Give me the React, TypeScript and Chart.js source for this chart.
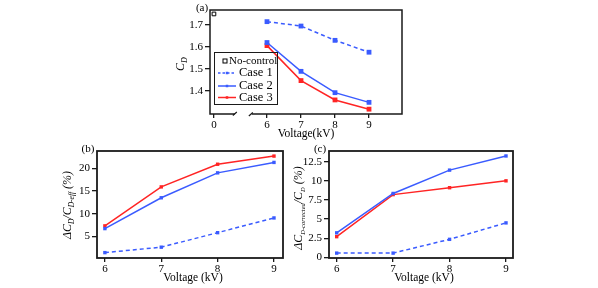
import React, { useEffect, useRef } from 'react';
import { Chart, registerables } from 'chart.js';

Chart.register(...registerables);

// ---------------- data ----------------
const voltages = [6, 7, 8, 9];
const noControlVoltage = [0];
const noControlCd = [1.75];
const cdCase1 = [1.715, 1.695, 1.63, 1.576];
const cdCase2 = [1.62, 1.489, 1.392, 1.348];
const cdCase3 = [1.606, 1.447, 1.359, 1.317];
const effCase1 = [1.4, 2.6, 5.8, 9.05];
const effCase2 = [6.7, 13.5, 19.0, 21.3];
const effCase3 = [7.3, 15.9, 20.9, 22.7];
const corrCase1 = [0.55, 0.55, 2.35, 4.5];
const corrCase2 = [3.2, 8.35, 11.4, 13.25];
const corrCase3 = [2.7, 8.2, 9.1, 10.0];
const xTicksA = [0, 6, 7, 8, 9];
const yTicksA = [1.4, 1.5, 1.6, 1.7];
const xTicksBC = [6, 7, 8, 9];
const yTicksB = [5, 10, 15, 20];
const yTicksC = [0, 2.5, 5, 7.5, 10, 12.5];
const legendLabels = ['No-control', 'Case 1', 'Case 2', 'Case 3'];

// ---------------- styling ----------------
const W = 598;
const H = 288;
const AXIS_W = 40;
const AXIS_H = 30;
const FONT = '"Liberation Serif", "Times New Roman", serif';
const BLUE = '#3a5bff';
const RED = '#ff2424';
const INK = '#1a1a1a';
const DASH = [4, 3];

// axis break in panel (a): value 0 is drawn just right of the left axis
const BREAK_ZERO = 4.44;
const toAxisX = (v: number) => (v === 0 ? BREAK_ZERO : v);
const pts = (xs: number[], ys: number[]) => xs.map((x, i) => ({ x: toAxisX(x), y: ys[i] }));

type Seg = { t: string; sub?: boolean };

function drawRich(ctx: CanvasRenderingContext2D, segs: Seg[], cx: number, cy: number, size: number, subSize: number, rotate: boolean) {
  ctx.save();
  ctx.translate(cx, cy);
  if (rotate) ctx.rotate(-Math.PI / 2);
  const mainFont = `italic ${size}px ${FONT}`;
  const subFont = `italic ${subSize}px ${FONT}`;
  let total = 0;
  const widths = segs.map((s) => {
    ctx.font = s.sub ? subFont : mainFont;
    const w = ctx.measureText(s.t).width;
    total += w;
    return w;
  });
  let x = -total / 2;
  ctx.textAlign = 'left';
  ctx.textBaseline = 'alphabetic';
  ctx.fillStyle = '#000';
  segs.forEach((s, i) => {
    ctx.font = s.sub ? subFont : mainFont;
    ctx.fillText(s.t, x, s.sub ? size * 0.55 : size * 0.35);
    x += widths[i];
  });
  ctx.restore();
}

function drawText(ctx: CanvasRenderingContext2D, t: string, x: number, y: number, size: number, align: CanvasTextAlign = 'center') {
  ctx.save();
  ctx.font = `${size}px ${FONT}`;
  ctx.fillStyle = '#000';
  ctx.textAlign = align;
  ctx.textBaseline = 'middle';
  ctx.fillText(t, x, y);
  ctx.restore();
}

function rectMarker(ctx: CanvasRenderingContext2D, x: number, y: number, s: number, fill: string, stroke?: string) {
  ctx.save();
  if (stroke) {
    ctx.fillStyle = '#fff';
    ctx.fillRect(x - s / 2, y - s / 2, s, s);
    ctx.strokeStyle = stroke;
    ctx.lineWidth = 1;
    ctx.strokeRect(x - s / 2, y - s / 2, s, s);
  } else {
    ctx.fillStyle = fill;
    ctx.fillRect(x - s / 2, y - s / 2, s, s);
  }
  ctx.restore();
}

type Panel = {
  id: string;
  area: { left: number; right: number; top: number; bottom: number };
  xMin: number; xMax: number; yMin: number; yMax: number;
  xTicks: number[]; yTicks: number[];
  datasets: any[];
  tag: string; tagPos: [number, number];
  xTitle: string; xTitlePos: [number, number];
  yTitle: Seg[]; yTitlePos: [number, number]; ySubSize: number;
  broken?: boolean;
  legend?: boolean;
};

function lineSet(label: string, xs: number[], ys: number[], color: string, dashed: boolean, r: number) {
  return {
    label,
    data: pts(xs, ys),
    borderColor: color,
    backgroundColor: color,
    borderWidth: 1.5,
    borderDash: dashed ? DASH : [],
    pointStyle: 'rect',
    pointRadius: r,
    pointBackgroundColor: color,
    pointBorderColor: color,
    pointBorderWidth: 0,
    tension: 0,
    showLine: true,
  };
}

const panels: Panel[] = [
  {
    id: 'a',
    area: { left: 210, right: 402, top: 10, bottom: 114 },
    xMin: 4.324, xMax: 9.97, yMin: 1.295, yMax: 1.768,
    xTicks: xTicksA, yTicks: yTicksA,
    datasets: [
      {
        label: legendLabels[0],
        data: pts(noControlVoltage, noControlCd),
        showLine: false,
        pointStyle: 'rect',
        pointRadius: 2.6,
        pointBackgroundColor: '#fff',
        pointBorderColor: '#000',
        pointBorderWidth: 1,
      },
      lineSet(legendLabels[1], voltages, cdCase1, BLUE, true, 3.4),
      lineSet(legendLabels[2], voltages, cdCase2, BLUE, false, 3.4),
      lineSet(legendLabels[3], voltages, cdCase3, RED, false, 3.4),
    ],
    tag: '(a)', tagPos: [202, 8],
    xTitle: 'Voltage(kV)', xTitlePos: [306, 134],
    yTitle: [{ t: 'C' }, { t: 'D', sub: true }], yTitlePos: [180, 64], ySubSize: 8,
    broken: true,
    legend: true,
  },
  {
    id: 'b',
    area: { left: 97, right: 283, top: 151, bottom: 258 },
    xMin: 5.86, xMax: 9.16, yMin: 0.213, yMax: 23.82,
    xTicks: xTicksBC, yTicks: yTicksB,
    datasets: [
      lineSet(legendLabels[1], voltages, effCase1, BLUE, true, 2.4),
      lineSet(legendLabels[2], voltages, effCase2, BLUE, false, 2.4),
      lineSet(legendLabels[3], voltages, effCase3, RED, false, 2.4),
    ],
    tag: '(b)', tagPos: [88, 149],
    xTitle: 'Voltage (kV)', xTitlePos: [193, 278],
    yTitle: [{ t: 'ΔC' }, { t: 'D', sub: true }, { t: '/C' }, { t: 'D-eff', sub: true }, { t: ' (%)' }],
    yTitlePos: [67, 205], ySubSize: 7.5,
  },
  {
    id: 'c',
    area: { left: 329, right: 513, top: 151, bottom: 258 },
    xMin: 5.864, xMax: 9.124, yMin: -0.09, yMax: 13.9,
    xTicks: xTicksBC, yTicks: yTicksC,
    datasets: [
      lineSet(legendLabels[1], voltages, corrCase1, BLUE, true, 2.4),
      lineSet(legendLabels[2], voltages, corrCase2, BLUE, false, 2.4),
      lineSet(legendLabels[3], voltages, corrCase3, RED, false, 2.4),
    ],
    tag: '(c)', tagPos: [320, 149],
    xTitle: 'Voltage (kV)', xTitlePos: [424, 278],
    yTitle: [{ t: 'ΔC' }, { t: 'D-corrected', sub: true }, { t: '/C' }, { t: 'D', sub: true }, { t: ' (%)' }],
    yTitlePos: [298, 208], ySubSize: 6.5,
  },
];

function panelPlugin(p: Panel) {
  return {
    id: 'panel_' + p.id,
    beforeDatasetsDraw(chart: any) {
      const ctx: CanvasRenderingContext2D = chart.ctx;
      const { left, right, top, bottom } = chart.chartArea;
      ctx.save();
      ctx.strokeStyle = INK;
      ctx.lineWidth = p.broken ? 1.5 : 1.8;
      if (!p.broken) {
        ctx.strokeRect(left, top, right - left, bottom - top);
      } else {
        const xs = chart.scales.x;
        const gc = xs.getPixelForValue(5.26);
        const g = 7;
        ctx.beginPath();
        ctx.moveTo(gc - g, bottom);
        ctx.lineTo(left, bottom);
        ctx.lineTo(left, top);
        ctx.lineTo(right, top);
        ctx.lineTo(right, bottom);
        ctx.lineTo(gc + g + 3, bottom);
        ctx.stroke();
        ctx.lineWidth = 1.2;
        ctx.beginPath();
        ctx.moveTo(gc - g - 2, bottom + 1.5);
        ctx.lineTo(gc - g + 2, bottom - 2);
        ctx.moveTo(gc + g, bottom + 2);
        ctx.lineTo(gc + g + 4, bottom - 1.5);
        ctx.stroke();
      }
      ctx.restore();
    },
    afterDraw(chart: any) {
      const ctx: CanvasRenderingContext2D = chart.ctx;
      drawText(ctx, p.tag, p.tagPos[0], p.tagPos[1], 11);
      drawText(ctx, p.xTitle, p.xTitlePos[0], p.xTitlePos[1], 11.5);
      drawRich(ctx, p.yTitle, p.yTitlePos[0], p.yTitlePos[1], 12, p.ySubSize, true);
      if (p.legend) {
        ctx.save();
        ctx.strokeStyle = INK;
        ctx.lineWidth = 1;
        ctx.strokeRect(214.5, 52.5, 63, 52);
        ctx.restore();
        // No-control
        rectMarker(ctx, 225, 61, 4, '#fff', '#000');
        drawText(ctx, legendLabels[0], 229, 61, 11, 'left');
        const rows: [string, string, boolean, number][] = [
          [legendLabels[1], BLUE, true, 73],
          [legendLabels[2], BLUE, false, 86],
          [legendLabels[3], RED, false, 97.5],
        ];
        rows.forEach(([label, color, dashed, y]) => {
          ctx.save();
          ctx.strokeStyle = color;
          ctx.lineWidth = 1.5;
          ctx.setLineDash(dashed ? [2.5, 2] : []);
          ctx.beginPath();
          ctx.moveTo(218, y);
          ctx.lineTo(236, y);
          ctx.stroke();
          ctx.restore();
          rectMarker(ctx, 227, y, 2.5, color);
          drawText(ctx, label, 239, y, 12.5, 'left');
        });
      }
    },
  };
}

function buildConfig(p: Panel): any {
  const tickFont = { family: FONT, size: 11 };
  return {
    type: 'line',
    data: { datasets: p.datasets },
    options: {
      responsive: false,
      maintainAspectRatio: false,
      animation: false,
      devicePixelRatio: 1,
      events: [],
      layout: {
        padding: {
          left: p.area.left - AXIS_W,
          right: W - p.area.right,
          top: p.area.top,
          bottom: H - p.area.bottom - AXIS_H,
        },
      },
      plugins: { legend: { display: false }, tooltip: { enabled: false }, title: { display: false } },
      scales: {
        x: {
          type: 'linear',
          min: p.xMin,
          max: p.xMax,
          afterFit: (s: any) => { s.height = AXIS_H; },
          afterBuildTicks: (s: any) => { s.ticks = p.xTicks.map((v) => ({ value: toAxisX(v) })); },
          ticks: {
            font: tickFont,
            color: '#000',
            padding: 1,
            maxRotation: 0,
            autoSkip: false,
            callback: (_v: any, i: number) => String(p.xTicks[i]),
          },
          grid: { drawOnChartArea: false, drawTicks: true, tickLength: 4, color: INK, lineWidth: 1.3 },
          border: { display: false },
        },
        y: {
          type: 'linear',
          min: p.yMin,
          max: p.yMax,
          afterFit: (s: any) => { s.width = AXIS_W; },
          afterBuildTicks: (s: any) => { s.ticks = p.yTicks.map((v) => ({ value: v })); },
          ticks: {
            font: tickFont,
            color: '#000',
            padding: 2,
            autoSkip: false,
            callback: (_v: any, i: number) => String(p.yTicks[i]),
          },
          grid: { drawOnChartArea: false, drawTicks: true, tickLength: 5, color: INK, lineWidth: 1.3 },
          border: { display: false },
        },
      },
    },
    plugins: [panelPlugin(p)],
  };
}

function PanelCanvas({ p }: { p: Panel }) {
  const ref = useRef<HTMLCanvasElement | null>(null);
  useEffect(() => {
    if (!ref.current) return;
    const chart = new Chart(ref.current, buildConfig(p));
    return () => chart.destroy();
  }, [p]);
  return (
    <canvas
      ref={ref}
      width={W}
      height={H}
      style={{ position: 'absolute', left: 0, top: 0, width: W, height: H }}
    />
  );
}

export default function App() {
  return (
    <div style={{ position: 'fixed', left: 0, top: 0, width: W, height: H, background: '#fff', overflow: 'hidden' }}>
      {panels.map((p) => (
        <PanelCanvas key={p.id} p={p} />
      ))}
    </div>
  );
}
